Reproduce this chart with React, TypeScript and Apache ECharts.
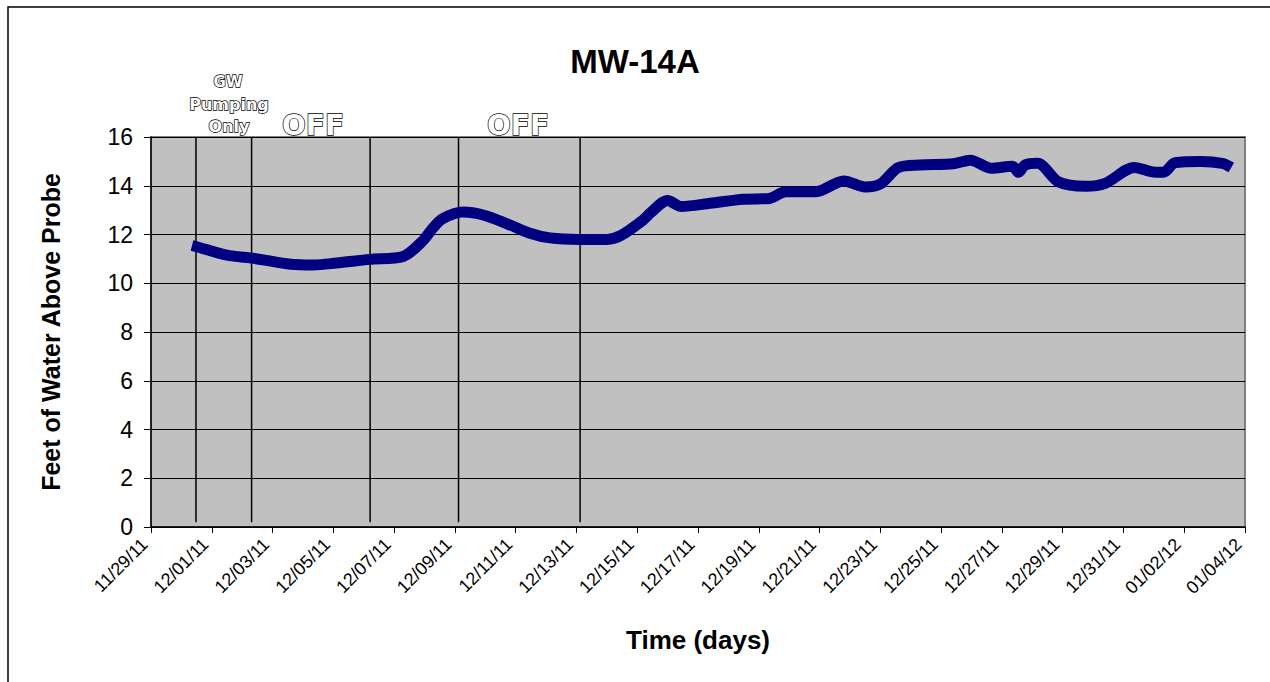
import React, { useEffect, useRef } from "react";
import * as echarts from "echarts";

// Days since 11/29/11 00:00 and water level (ft above probe)
const days = [
  1.35, 1.5, 2.5, 3.4, 4.6, 5.35, 6.1, 7.2, 8.3, 8.95, 9.3, 9.6, 10.27, 10.93,
  11.7, 12.47, 13.13, 14.1, 15.0, 15.45, 16.2, 16.45, 17.0, 17.45, 18.4, 19.5,
  20.3, 20.9, 21.85, 22.8, 23.5, 24.0, 24.6, 25.3, 26.4, 26.96, 27.65, 28.35,
  28.55, 28.76, 29.17, 29.87, 30.76, 31.4, 32.36, 33.05, 33.32, 33.7, 34.55,
  35.25, 35.55,
];
const levels = [
  11.55, 11.5, 11.15, 11.02, 10.78, 10.75, 10.83, 10.98, 11.1, 11.75, 12.3,
  12.65, 12.92, 12.8, 12.45, 12.05, 11.86, 11.8, 11.8, 11.95, 12.6, 12.9, 13.4,
  13.15, 13.28, 13.45, 13.47, 13.75, 13.75, 14.2, 13.95, 14.07, 14.75, 14.85,
  14.9, 15.05, 14.72, 14.8, 14.55, 14.85, 14.92, 14.15, 13.98, 14.1, 14.75,
  14.55, 14.55, 14.95, 15.0, 14.92, 14.75,
];
// Event markers (days since 11/29/11)
const eventDays = [1.48, 3.31, 7.21, 10.12, 14.12];

const tickLabels = [
  "11/29/11", "12/01/11", "12/03/11", "12/05/11", "12/07/11", "12/09/11",
  "12/11/11", "12/13/11", "12/15/11", "12/17/11", "12/19/11", "12/21/11",
  "12/23/11", "12/25/11", "12/27/11", "12/29/11", "12/31/11", "01/02/12",
  "01/04/12",
];

const FONT = "Liberation Sans, Arial, sans-serif";
const OUTLINE_FONT = "DejaVu Sans, Verdana, sans-serif";

export default function App() {
  const ref = useRef<HTMLDivElement>(null);
  useEffect(() => {
    if (!ref.current) return;
    const chart = echarts.init(ref.current, undefined, { renderer: "svg" });
    const outline = (text: string, x: number, y: number, size: number) => ({
      type: "text",
      x,
      y,
      z: 10,
      style: {
        text,
        fill: "#fff",
        stroke: "#000",
        lineWidth: 1.4,
        font: `bold ${size}px ${OUTLINE_FONT}`,
        textAlign: "center",
        textVerticalAlign: "middle",
      },
    });
    chart.setOption({
      animation: false,
      backgroundColor: "#fff",
      title: {
        text: "MW-14A",
        left: "center",
        top: 40,
        textStyle: { fontFamily: FONT, fontSize: 33, fontWeight: "bold", color: "#000" },
      },
      grid: {
        left: 151,
        right: 25,
        top: 137,
        bottom: 155,
        show: true,
        backgroundColor: "#C0C0C0",
        borderColor: "#808080",
        borderWidth: 2,
      },
      xAxis: {
        type: "value",
        min: 0,
        max: 36,
        interval: 2,
        name: "Time (days)",
        nameLocation: "middle",
        nameGap: 100,
        nameTextStyle: { fontFamily: FONT, fontSize: 26, fontWeight: "bold", color: "#000" },
        axisLine: { show: true, onZero: false, lineStyle: { color: "#000", width: 1.5 } },
        axisTick: { show: true, inside: false, length: 6, lineStyle: { color: "#000" } },
        splitLine: { show: false },
        axisLabel: {
          rotate: 45,
          margin: 8,
          padding: [0, 9, 0, 0],
          fontFamily: FONT,
          fontSize: 18,
          color: "#000",
          formatter: (v: number) => tickLabels[Math.round(v / 2)] ?? "",
        },
      },
      yAxis: {
        type: "value",
        min: 0,
        max: 16,
        interval: 2,
        name: "Feet of Water Above Probe",
        nameLocation: "middle",
        nameGap: 88,
        nameTextStyle: { fontFamily: FONT, fontSize: 25, fontWeight: "bold", color: "#000" },
        axisLine: { show: true, lineStyle: { color: "#000", width: 1.5 } },
        axisTick: { show: true, inside: false, length: 7, lineStyle: { color: "#000" } },
        splitLine: { show: true, lineStyle: { color: "#000", width: 1 } },
        axisLabel: { margin: 18, fontFamily: FONT, fontSize: 23, color: "#000" },
      },
      graphic: [
        {
          type: "rect",
          z: -10,
          shape: { x: 8, y: 7, width: 1400, height: 800 },
          style: { fill: "none", stroke: "#000", lineWidth: 1.5 },
        },
        outline("GW", 228, 82, 15),
        outline("Pumping", 229, 104, 16),
        outline("Only", 229, 126, 16),
        outline("OFF", 313, 125, 28),
        outline("OFF", 518, 125, 28),
      ],
      series: [
        ...eventDays.map((d) => ({
          type: "line",
          silent: true,
          z: 1,
          symbol: "none",
          lineStyle: { color: "#000", width: 1.5 },
          data: [
            [d, 0.2],
            [d, 16],
          ],
        })),
        {
          type: "line",
          z: 3,
          name: "MW-14A",
          symbol: "none",
          smooth: 0.3,
          lineStyle: { color: "#000080", width: 11, join: "round", cap: "butt" },
          data: days.map((d, i) => [d, levels[i]]),
        },
      ],
    });
    return () => chart.dispose();
  }, []);
  return (
    <div
      ref={ref}
      style={{ position: "fixed", left: 0, top: 0, width: 1270, height: 682 }}
    />
  );
}
